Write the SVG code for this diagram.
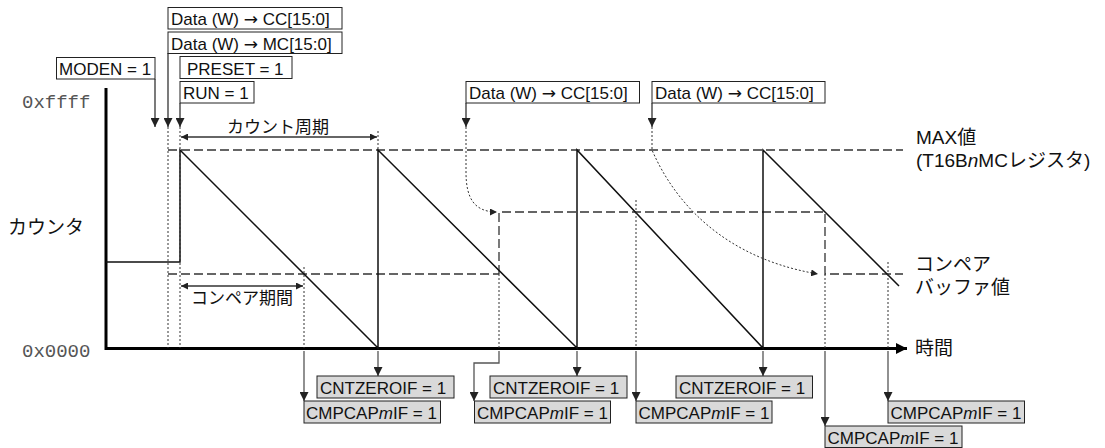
<svg xmlns="http://www.w3.org/2000/svg" width="1105" height="448" viewBox="0 0 1105 448">
<defs>
<style>
.box{fill:#fff;stroke:#222;stroke-width:1}
.gbox{fill:#d9d9d9;stroke:#222;stroke-width:1}
.lbl{font-family:"Liberation Sans",Arial,sans-serif;font-size:17px;fill:#111}
.arw{font-family:"DejaVu Sans",sans-serif;font-size:17px}
.jp{font-family:"Liberation Sans","Noto Sans CJK JP",sans-serif;font-size:19px;fill:#111}
.jps{font-family:"Liberation Sans","Noto Sans CJK JP",sans-serif;font-size:17px;fill:#111}
.mono{font-family:"Liberation Mono","Courier New",monospace;font-size:19px;fill:#555}
.dash{stroke:#333;stroke-width:1.3;stroke-dasharray:9 4;fill:none}
.dot{stroke:#333;stroke-width:1;stroke-dasharray:2 2;fill:none}
.conn{stroke:#333;stroke-width:1.3;fill:none}
.gconn{stroke:#555;stroke-width:1.3;fill:none}
.axis{stroke:#000;stroke-width:3;fill:none}
.saw{stroke:#111;stroke-width:1.5;fill:none}
</style>
<marker id="ah" viewBox="0 0 10 10" refX="10" refY="5" markerWidth="9" markerHeight="9" markerUnits="userSpaceOnUse" orient="auto"><path d="M0,0 L10,5 L0,10 z" fill="#222"/></marker>
<marker id="ahs" viewBox="0 0 10 10" refX="10" refY="5" markerWidth="7" markerHeight="7" markerUnits="userSpaceOnUse" orient="auto-start-reverse"><path d="M0,0 L10,5 L0,10 z" fill="#222"/></marker>
<marker id="ahx" viewBox="0 0 10 10" refX="10" refY="5" markerWidth="11" markerHeight="12" markerUnits="userSpaceOnUse" orient="auto"><path d="M0,0 L10,5 L0,10 z" fill="#000"/></marker>
</defs>

<g id="axes">
<line class="axis" x1="106" y1="88" x2="106" y2="350"/>
<line class="axis" x1="105" y1="348.5" x2="907" y2="348.5" marker-end="url(#ahx)"/>
<text class="mono" x="22" y="108">0xffff</text>
<text class="mono" x="22" y="357">0x0000</text>
<text class="jp" x="8" y="234">カウンタ</text>
<text class="jp" x="915" y="355">時間</text>
</g>

<g id="levels">
<path class="dash" d="M168,150 H903"/>
<path class="dash" d="M168,274 H499"/>
<path class="dash" d="M499,274 V212 H825 V274 H903"/>
<text class="jp" x="916" y="144">MAX値</text>
<text class="jp" x="916" y="167">(T16B<tspan font-style="italic">n</tspan>MCレジスタ)</text>
<text class="jp" x="915" y="271">コンペア</text>
<text class="jp" x="915" y="294">バッファ値</text>
</g>

<g id="counter">
<path class="saw" d="M106,262 H180 V150 L378,348 V150 L577,348 V150 L763,348 V150 L899,286"/>
</g>

<g id="connectors">
<path class="dot" d="M168,127 V348 M180,127 V348 M378,131 V150 M304,267 V348 M499,274 V348 M636,200 V348 M825,274 V348 M888,262 V348"/>
<path class="conn" d="M155,79 V127" marker-end="url(#ah)"/>
<path class="conn" d="M168,53 V127" marker-end="url(#ah)"/>
<path class="conn" d="M180,103 V127" marker-end="url(#ah)"/>
<path class="conn" d="M466,103 V127" marker-end="url(#ah)"/>
<path class="conn" d="M652,103 V127" marker-end="url(#ah)"/>
<path class="dot" d="M466,127 V172 C466,198 474,212 497,212" marker-end="url(#ahs)"/>
<path class="dot" d="M652,127 V150 C665,180 705,255 818,274" marker-end="url(#ahs)"/>
<path class="conn" d="M181,137 H377" marker-start="url(#ahs)" marker-end="url(#ahs)"/>
<path class="conn" d="M181,286 H303" marker-start="url(#ahs)" marker-end="url(#ahs)"/>
<path class="gconn" d="M304,351 V401" marker-end="url(#ah)"/>
<path class="gconn" d="M378,351 V376" marker-end="url(#ah)"/>
<path class="gconn" d="M499,351 V363 H474 V401" marker-end="url(#ah)"/>
<path class="gconn" d="M577,351 V376" marker-end="url(#ah)"/>
<path class="gconn" d="M636,351 V401" marker-end="url(#ah)"/>
<path class="gconn" d="M763,351 V376" marker-end="url(#ah)"/>
<path class="gconn" d="M825,351 V426" marker-end="url(#ah)"/>
<path class="gconn" d="M888,351 V401" marker-end="url(#ah)"/>
<text class="jps" x="227" y="133">カウント周期</text>
<text class="jps" x="191" y="304">コンペア期間</text>
</g>

<g id="n-moden"><rect class="box" x="56.5" y="57.5" width="98.5" height="21.5"/><text class="lbl" x="59" y="75">MODEN = 1</text></g>
<g id="n-cc1"><rect class="box" x="168" y="7.5" width="174" height="21.5"/><text class="lbl" x="171" y="25">Data (W) <tspan class="arw">→</tspan> CC[15:0]</text></g>
<g id="n-mc"><rect class="box" x="168" y="32" width="174" height="21.5"/><text class="lbl" x="171" y="49.5">Data (W) <tspan class="arw">→</tspan> MC[15:0]</text></g>
<g id="n-preset"><rect class="box" x="180" y="56.5" width="112" height="22"/><text class="lbl" x="187" y="74.5">PRESET = 1</text></g>
<g id="n-run"><rect class="box" x="180" y="81.5" width="74" height="21.5"/><text class="lbl" x="183" y="99">RUN = 1</text></g>
<g id="n-cc2"><rect class="box" x="466" y="81.5" width="173.5" height="21.5"/><text class="lbl" x="469" y="99">Data (W) <tspan class="arw">→</tspan> CC[15:0]</text></g>
<g id="n-cc3"><rect class="box" x="652" y="81.5" width="173" height="21.5"/><text class="lbl" x="655" y="99">Data (W) <tspan class="arw">→</tspan> CC[15:0]</text></g>

<g id="n-cz1"><rect class="gbox" x="317" y="376" width="137" height="22"/><text class="lbl" x="320" y="393.5">CNTZEROIF = 1</text></g>
<g id="n-cz2"><rect class="gbox" x="490" y="376" width="137" height="22"/><text class="lbl" x="493" y="393.5">CNTZEROIF = 1</text></g>
<g id="n-cz3"><rect class="gbox" x="676" y="376" width="136.5" height="22"/><text class="lbl" x="679" y="393.5">CNTZEROIF = 1</text></g>
<g id="n-cm1"><rect class="gbox" x="304" y="401" width="136.5" height="22"/><text class="lbl" x="306" y="418.5">CMPCAP<tspan font-style="italic">m</tspan>IF = 1</text></g>
<g id="n-cm2"><rect class="gbox" x="474.5" y="401" width="136" height="22"/><text class="lbl" x="477" y="418.5">CMPCAP<tspan font-style="italic">m</tspan>IF = 1</text></g>
<g id="n-cm3"><rect class="gbox" x="636" y="401" width="136" height="22"/><text class="lbl" x="638.5" y="418.5">CMPCAP<tspan font-style="italic">m</tspan>IF = 1</text></g>
<g id="n-cm4"><rect class="gbox" x="825" y="426" width="137" height="21.5"/><text class="lbl" x="827.5" y="443.5">CMPCAP<tspan font-style="italic">m</tspan>IF = 1</text></g>
<g id="n-cm5"><rect class="gbox" x="888" y="401" width="136.5" height="22"/><text class="lbl" x="890.5" y="418.5">CMPCAP<tspan font-style="italic">m</tspan>IF = 1</text></g>
</svg>
